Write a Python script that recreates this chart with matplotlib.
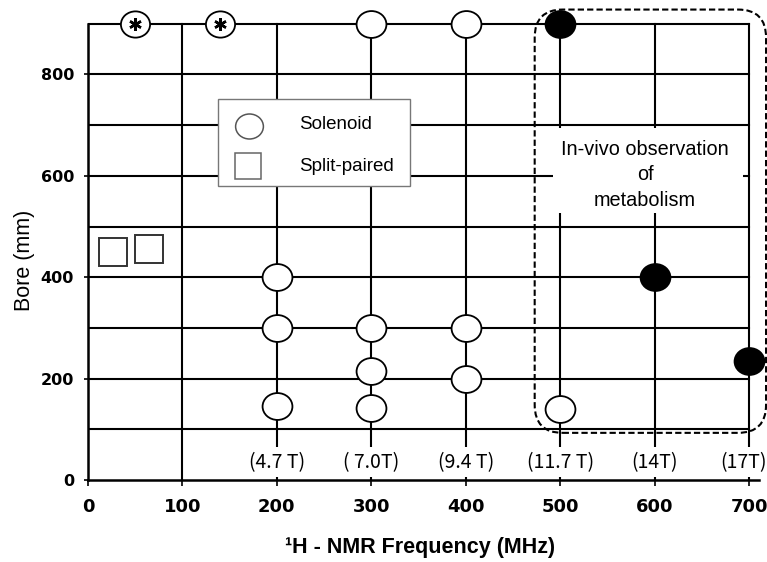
import matplotlib.pyplot as plt
from matplotlib.patches import Rectangle, FancyBboxPatch
from matplotlib.path import Path
from matplotlib.transforms import Affine2D

# 1H NMR frequency (MHz) vs room-temperature bore (mm) of NMR magnets
freq_ticks = [0, 100, 200, 300, 400, 500, 600, 700]
bore_ticks = [0, 200, 400, 600, 800]
grid_freq = [0, 100, 200, 300, 400, 500, 600, 700]
grid_bore = [0, 100, 200, 300, 400, 500, 600, 700, 800, 900]

# solenoid magnets (open circles)
solenoid_freq = [300, 400, 200, 200, 200, 300, 300, 300, 400, 400, 500]
solenoid_bore = [900, 900, 400, 300, 145, 300, 215, 142, 300, 200, 140]

# high field magnets (filled circles)
highfield_freq = [500, 600, 700]
highfield_bore = [900, 400, 235]

# low field magnets marked with an asterisk
marked_freq = [50, 140]
marked_bore = [900, 900]

# split-paired magnets
split_freq = [27, 65]
split_bore = [450, 455]

field_freq = [200, 300, 400, 500, 600, 694]
field_labels = ['(4.7 T)', '( 7.0T)', '(9.4 T)', '(11.7 T)', '(14T)', '(17T)']

W, H = 767, 562
fig = plt.figure(figsize=(W / 100, H / 100), dpi=100)
ax = fig.add_axes([88 / W, (H - 480) / H, 679 / W, 475 / H])
ax.set_xlim(0, 719)
ax.set_ylim(0, 937)

px_x = 679 / 719   # pixels per MHz
px_y = 475 / 937   # pixels per mm

# grid
for f in grid_freq[1:]:
    ax.plot([f, f], [0, 900], color='black', lw=1.5, zorder=1)
for b in grid_bore[1:]:
    ax.plot([0, 700], [b, b], color='black', lw=1.5, zorder=1)

for s in ['top', 'right']:
    ax.spines[s].set_visible(False)
ax.spines['left'].set_bounds(0, 900)
ax.spines['bottom'].set_bounds(0, 710)
ax.spines['left'].set_linewidth(1.8)
ax.spines['bottom'].set_linewidth(1.8)

ax.set_xticks(freq_ticks)
ax.set_yticks(bore_ticks)
ax.tick_params(axis='x', direction='out', length=4, width=1.2, pad=9,
               labelsize=13)
ax.tick_params(axis='y', direction='out', length=3, width=1.2, pad=7,
               labelsize=11.5)
plt.setp(ax.get_xticklabels(), fontweight='bold', family='DejaVu Sans')
plt.setp(ax.get_yticklabels(), fontweight='bold', family='DejaVu Sans')

ax.set_xlabel('¹H - NMR Frequency (MHz)', fontsize=15.5, fontweight='bold',
              family='Liberation Sans')
ax.xaxis.set_label_coords(0.489, -0.12)
ax.set_ylabel('Bore (mm)', fontsize=15.5, family='Liberation Sans')
ax.yaxis.set_label_coords(-0.078, 0.463)

# white band behind the field strength labels
ax.add_patch(Rectangle((145, 5), 580, 60, facecolor='white', edgecolor='none',
                       zorder=2, clip_on=False))
for f, lab in zip(field_freq, field_labels):
    ax.text(f, 35, lab, ha='center', va='center', fontsize=14,
            family=['Noto Sans CJK JP', 'DejaVu Sans'], zorder=5)

oval = Path.unit_circle().transformed(Affine2D().scale(1, 0.9))

ax.plot(solenoid_freq, solenoid_bore, ls='none', marker=oval, ms=21.5,
        mfc='white', mec='black', mew=1.3, zorder=4, clip_on=False)
ax.plot(highfield_freq, highfield_bore, ls='none', marker=oval, ms=21.5,
        mfc='black', mec='black', mew=1.3, zorder=4, clip_on=False)
ax.plot(marked_freq, marked_bore, ls='none', marker=oval, ms=21,
        mfc='white', mec='black', mew=1.3, zorder=4, clip_on=False)
ax.plot(marked_freq, marked_bore, ls='none', marker=(6, 2, 0), ms=9,
        mec='black', mew=1.8, zorder=5, clip_on=False)
ax.plot(split_freq, split_bore, ls='none', marker='s', ms=20.5,
        mfc='white', mec='#333333', mew=1.4, zorder=4)

# legend
ax.add_patch(Rectangle((138, 580), 203, 172, facecolor='white',
                       edgecolor='#777777', lw=1, zorder=3))
ax.plot([171], [699], ls='none', marker=oval, ms=20, mfc='white',
        mec='#555555', mew=1.1, zorder=4)
ax.plot([169], [620], ls='none', marker='s', ms=19, mfc='white',
        mec='#666666', mew=1.1, zorder=4)
ax.text(224, 702, 'Solenoid', va='center', fontsize=13.5,
        family='Liberation Sans', zorder=5)
ax.text(224, 618, 'Split-paired', va='center', fontsize=13.5,
        family='Liberation Sans', zorder=5)

# in-vivo region
ax.add_patch(Rectangle((492, 527), 202, 168, facecolor='white',
                       edgecolor='none', zorder=2))
ax.text(590, 602, 'In-vivo observation\nof\nmetabolism', ha='center',
        va='center', multialignment='center', fontsize=14.3, linespacing=1.45,
        family='Liberation Sans', zorder=5)

r = 28 / px_x
box = FancyBboxPatch((473, 93), 245, 835,
                     boxstyle=f'round,pad=0,rounding_size={r}',
                     mutation_aspect=px_x / px_y, fill=False,
                     edgecolor='black', lw=1.5, ls=(0, (3, 1.5)),
                     zorder=3, clip_on=False)
ax.add_patch(box)

fig.savefig('out.png', dpi=100)
